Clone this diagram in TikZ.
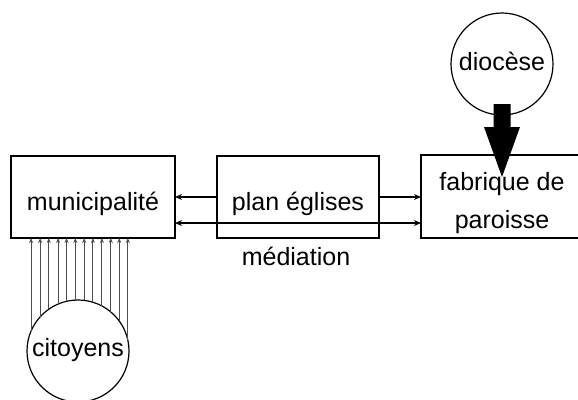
\documentclass[tikz,border=0pt]{standalone}
\usepackage{fontspec}
\setmainfont{Liberation Sans}
\usetikzlibrary{arrows.meta,calc}
\begin{document}
\begin{tikzpicture}[x=1pt,y=-1pt,
  every node/.style={font=\fontsize{25}{38}\selectfont, inner sep=0pt, outer sep=0pt},
  box/.style={draw, line width=1.3pt, rectangle, text height=30pt, text depth=4pt},
  bubble/.style={draw, line width=1.2pt, circle, minimum size=102pt},
  arr/.style={line width=1.2pt, -{Stealth[length=7pt,width=6pt]}},
  darr/.style={line width=1.2pt, {Stealth[length=7pt,width=6pt]}-{Stealth[length=7pt,width=6pt]}},
  varr/.style={line width=0.9pt, black!70, -{Stealth[length=5pt,width=4pt]}}]
\clip (0,0) rectangle (578,399);
\node[box, minimum width=164pt, minimum height=82pt] (muni) at (93,197) {municipalité};
\node[box, minimum width=162pt, minimum height=82pt] (plan) at (298,197) {plan églises};
\node[draw, line width=1.3pt, rectangle, minimum width=162pt, minimum height=83pt,
  label={[align=center, yshift=-7pt]center:fabrique de\\paroisse}] (fab) at (502,196.5) {};
\node[bubble, text height=18pt, text depth=6pt] (dioc) at (502,64) {diocèse};
\node[bubble, text height=17pt, text depth=7pt] (cit) at (78,351) {citoyens};
\node[anchor=base] (med) at (296,265) {médiation};
% arrows between boxes
\draw[arr] (plan.west) -- (muni.east |- plan.west);
\draw[arr] (plan.east) -- (fab.west |- plan.east);
\draw[darr] ([yshift=-26pt]muni.east) -- ([yshift=-26pt]muni.east -| fab.west);
% citizens arrows
\foreach \i in {0,...,11}{
  \pgfmathsetmacro\ang{acos((31+8.8*\i-78)/51)}
  \draw[varr] (cit.\ang) -- (cit.\ang |- muni.south);
}
% thick arrow diocese -> fabrique
\fill[shift={(dioc.south)}] (-8.5,-11) -- (8.5,-11) -- (8.5,12) -- (18,12) -- (0,62) -- (-18,12) -- (-8.5,12) -- cycle;
\end{tikzpicture}
\end{document}
